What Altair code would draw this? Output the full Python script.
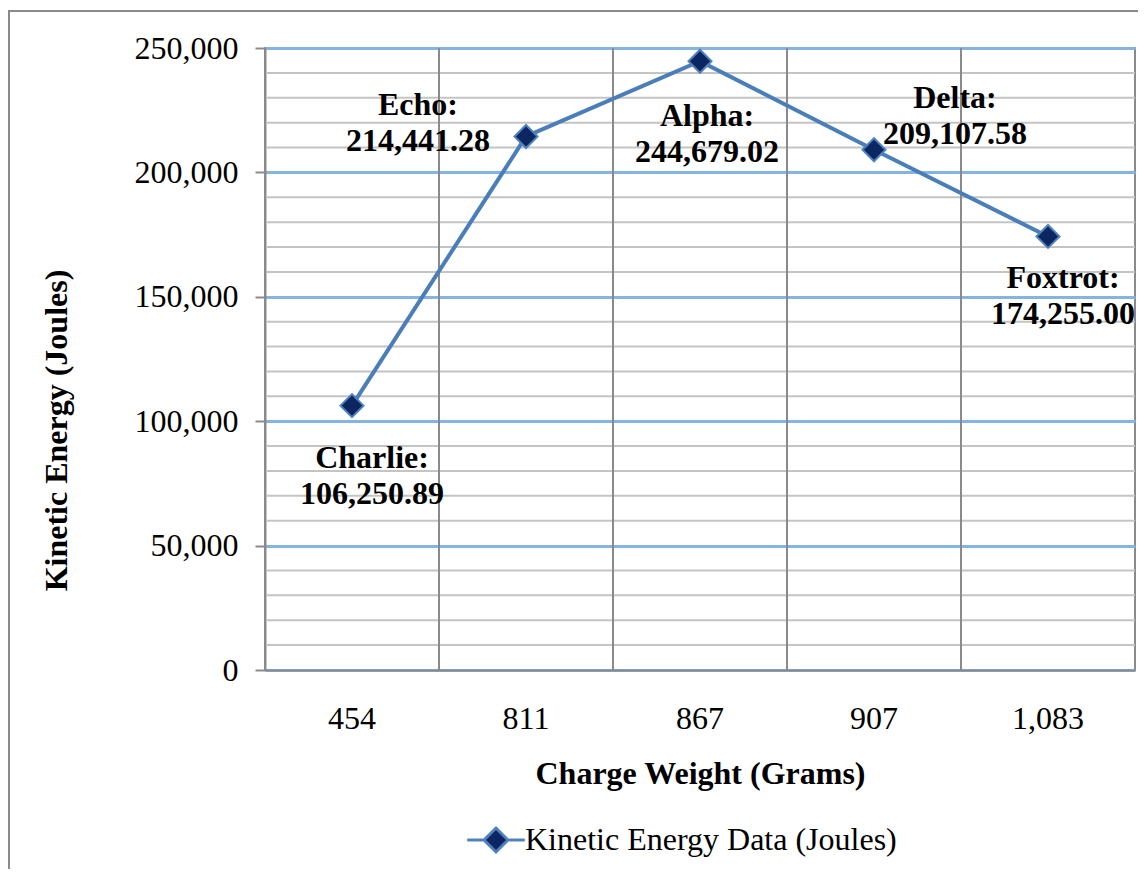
import altair as alt
import pandas as pd

# ---- data ----
charge_weights = ["454", "811", "867", "907", "1,083"]
kinetic_energy = [106250.89, 214441.28, 244679.02, 209107.58, 174255.00]
shot_names = ["Charlie", "Echo", "Alpha", "Delta", "Foxtrot"]
series_name = "Kinetic Energy Data (Joules)"
y_major_ticks = [0, 50000, 100000, 150000, 200000, 250000]
y_minor_ticks = [v for v in range(10000, 250000, 10000) if v % 50000 != 0]

# label placement (style): dx, dy per shot
label_offsets = {
    "Charlie": (20, 52),
    "Echo": (-108, -31),
    "Alpha": (7, 55),
    "Delta": (81, -52),
    "Foxtrot": (15, 42),
}

df = pd.DataFrame({
    "weight": charge_weights,
    "energy": kinetic_energy,
    "name": shot_names,
    "series": [series_name] * len(charge_weights),
})
df["label"] = [f"{n}:\n{e:,.2f}" for n, e in zip(shot_names, kinetic_energy)]

FONT = "Liberation Serif"
LINE_BLUE = "#4a7ebb"
MARKER_FILL = "#0b2660"
MARKER_STROKE = "#4f81bd"
GRID_BLUE = "#84b4df"
GRAY = "#8a8a8a"
MINOR_GRAY = "#c4c4c4"

x_scale = alt.Scale(type="band", domain=charge_weights, paddingInner=0, paddingOuter=0)
y_scale = alt.Scale(domain=[0, 250000], nice=False)

base = alt.Chart(df)

x_axis = alt.Axis(
    title="Charge Weight (Grams)",
    titleFont=FONT, titleFontSize=32, titleFontWeight="bold", titleColor="black",
    titleBaseline="alphabetic", titleY=113,
    labelFont=FONT, labelFontSize=32, labelColor="black",
    labelAngle=0, labelAlign="center", labelBaseline="alphabetic", labelPadding=58,
    ticks=False, tickSize=0, grid=False,
    domainColor=GRAY, domainWidth=2,
)

y_axis = alt.Axis(
    title="Kinetic Energy (Joules)",
    titleFont=FONT, titleFontSize=32, titleFontWeight="bold", titleColor="black",
    titleX=-209, titleY=382, titleAngle=-90, titleAlign="center", titleBaseline="middle",
    values=y_major_ticks, labelExpr="format(datum.value, ',')",
    labelFont=FONT, labelFontSize=32, labelColor="black",
    labelPadding=17, tickSize=10, tickColor=GRAY, tickWidth=2,
    domainColor=GRAY, domainWidth=2,
    grid=True, gridColor=GRID_BLUE, gridWidth=3,
)

x_plain = alt.X("weight:N", scale=x_scale, sort=charge_weights)
y_plain = alt.Y("energy:Q", scale=y_scale)

minor_df = pd.DataFrame({"energy": y_minor_ticks})
minor_grid = alt.Chart(minor_df).mark_rule(color=MINOR_GRAY, strokeWidth=2).encode(y=y_plain)

vert_grid = base.mark_rule(color=GRAY, strokeWidth=2).encode(
    x=alt.X("weight:N", scale=x_scale, sort=charge_weights, bandPosition=0)
)

line = base.mark_line(color=LINE_BLUE, strokeWidth=4).encode(
    x=alt.X("weight:N", scale=x_scale, sort=charge_weights, axis=x_axis),
    y=alt.Y("energy:Q", scale=y_scale, axis=y_axis),
)

legend_path = "M-2.4,0H-1M1,0H2.4M0,-1L1,0L0,1L-1,0Z"
points = base.mark_point(
    shape="diamond", filled=True, size=529, stroke=MARKER_STROKE, strokeWidth=2, opacity=1
).encode(
    x=x_plain,
    y=y_plain,
    fill=alt.Fill(
        "series:N",
        scale=alt.Scale(domain=[series_name], range=[MARKER_FILL]),
        legend=alt.Legend(
            title=None, orient="none", legendX=215, legendY=776,
            symbolType=legend_path, symbolSize=576, symbolStrokeWidth=3,
            symbolStrokeColor=MARKER_STROKE,
            labelFont=FONT, labelFontSize=32, labelColor="black", labelOffset=13,
            labelLimit=600,
        ),
    ),
)

label_layers = []
for name in shot_names:
    dx, dy = label_offsets[name]
    label_layers.append(
        base.transform_filter(alt.datum.name == name).mark_text(
            font=FONT, fontSize=32, fontWeight="bold", color="black",
            align="center", baseline="middle", lineBreak="\n", lineHeight=36,
            dx=dx, dy=dy,
        ).encode(x=x_plain, y=y_plain, text="label:N")
    )

frame = alt.Chart(pd.DataFrame({"k": [0]})).mark_rect(
    fill="transparent", stroke=GRAY, strokeWidth=2
).encode(
    x=alt.value(-256), x2=alt.value(895), y=alt.value(-37), y2=alt.value(900)
)

chart = alt.layer(
    minor_grid, vert_grid, line, points, *label_layers, frame
).properties(
    width=870, height=622,
    autosize=alt.AutoSizeParams(type="none"),
    padding={"left": 257, "top": 40, "right": 3, "bottom": 199},
).configure(
    font=FONT, background="white"
).configure_view(
    stroke=GRAY, strokeWidth=2
).configure_axis(
    labelFont=FONT, labelFontSize=32, labelColor="black",
    titleFont=FONT, titleFontSize=32, titleFontWeight="bold", titleColor="black",
    domainColor=GRAY, domainWidth=2, tickColor=GRAY, tickWidth=2,
)

chart.save("out.html", embed_options={"renderer": "svg", "actions": False})
